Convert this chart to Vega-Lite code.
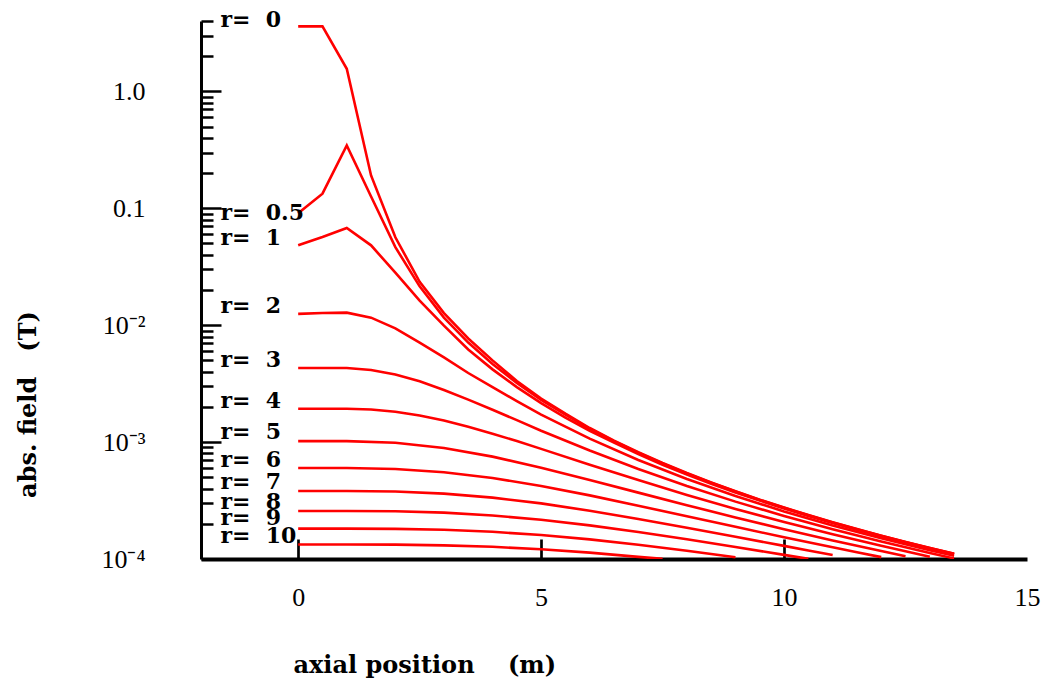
{
  "$schema": "https://vega.github.io/schema/vega-lite/v6.json",
  "width": 826,
  "height": 538,
  "autosize": "none",
  "padding": {"left": 201, "top": 21, "right": 16, "bottom": 127},
  "background": "white",
  "config": {"view": {"stroke": null}},
  "datasets": {
    "curves": [
      {"r":"0","x":0,"B":3.6},{"r":"0","x":0.5,"B":3.6},{"r":"0","x":1,"B":1.56},{"r":"0","x":1.5,"B":0.191},{"r":"0","x":2,"B":0.0565},{"r":"0","x":2.5,"B":0.0235},{"r":"0","x":3,"B":0.0127},{"r":"0","x":3.5,"B":0.0077},{"r":"0","x":4,"B":0.005},{"r":"0","x":4.5,"B":0.00333},{"r":"0","x":5,"B":0.00236},{"r":"0","x":5.5,"B":0.00175},{"r":"0","x":6,"B":0.00132},{"r":"0","x":6.5,"B":0.00103},{"r":"0","x":7,"B":0.00082},{"r":"0","x":7.5,"B":0.000663},{"r":"0","x":8,"B":0.000544},{"r":"0","x":8.5,"B":0.000452},{"r":"0","x":9,"B":0.00038},{"r":"0","x":9.5,"B":0.000322},{"r":"0","x":10,"B":0.0002755},{"r":"0","x":10.5,"B":0.0002375},{"r":"0","x":11,"B":0.0002063},{"r":"0","x":11.5,"B":0.0001802},{"r":"0","x":12,"B":0.0001584},{"r":"0","x":12.5,"B":0.00014},{"r":"0","x":13,"B":0.0001244},{"r":"0","x":13.5,"B":0.0001109},
      {"r":"0.5","x":0,"B":0.0906},{"r":"0.5","x":0.5,"B":0.1334},{"r":"0.5","x":1,"B":0.345},{"r":"0.5","x":1.5,"B":0.126},{"r":"0.5","x":2,"B":0.0465},{"r":"0.5","x":2.5,"B":0.0215},{"r":"0.5","x":3,"B":0.0116},{"r":"0.5","x":3.5,"B":0.0071},{"r":"0.5","x":4,"B":0.00465},{"r":"0.5","x":4.5,"B":0.0032},{"r":"0.5","x":5,"B":0.0023},{"r":"0.5","x":5.5,"B":0.00172},{"r":"0.5","x":6,"B":0.0013},{"r":"0.5","x":6.5,"B":0.00102},{"r":"0.5","x":7,"B":0.000812},{"r":"0.5","x":7.5,"B":0.000658},{"r":"0.5","x":8,"B":0.00054},{"r":"0.5","x":8.5,"B":0.000449},{"r":"0.5","x":9,"B":0.000378},{"r":"0.5","x":9.5,"B":0.00032},{"r":"0.5","x":10,"B":0.0002742},{"r":"0.5","x":10.5,"B":0.0002365},{"r":"0.5","x":11,"B":0.0002055},{"r":"0.5","x":11.5,"B":0.0001795},{"r":"0.5","x":12,"B":0.0001578},{"r":"0.5","x":12.5,"B":0.0001395},{"r":"0.5","x":13,"B":0.0001241},{"r":"0.5","x":13.5,"B":0.0001106},
      {"r":"1","x":0,"B":0.0482},{"r":"1","x":0.5,"B":0.0568},{"r":"1","x":1,"B":0.0678},{"r":"1","x":1.5,"B":0.0482},{"r":"1","x":2,"B":0.0281},{"r":"1","x":2.5,"B":0.0162},{"r":"1","x":3,"B":0.0099},{"r":"1","x":3.5,"B":0.0062},{"r":"1","x":4,"B":0.00419},{"r":"1","x":4.5,"B":0.00295},{"r":"1","x":5,"B":0.002157},{"r":"1","x":5.5,"B":0.00162},{"r":"1","x":6,"B":0.001251},{"r":"1","x":6.5,"B":0.00099},{"r":"1","x":7,"B":0.000789},{"r":"1","x":7.5,"B":0.00064},{"r":"1","x":8,"B":0.000528},{"r":"1","x":8.5,"B":0.000441},{"r":"1","x":9,"B":0.000371},{"r":"1","x":9.5,"B":0.000316},{"r":"1","x":10,"B":0.00027},{"r":"1","x":10.5,"B":0.000233},{"r":"1","x":11,"B":0.000203},{"r":"1","x":11.5,"B":0.0001775},{"r":"1","x":12,"B":0.0001563},{"r":"1","x":12.5,"B":0.0001383},{"r":"1","x":13,"B":0.000123},{"r":"1","x":13.5,"B":0.0001098},
      {"r":"2","x":0,"B":0.0125},{"r":"2","x":0.5,"B":0.0127},{"r":"2","x":1,"B":0.0128},{"r":"2","x":1.5,"B":0.0116},{"r":"2","x":2,"B":0.0094},{"r":"2","x":2.5,"B":0.0071},{"r":"2","x":3,"B":0.0053},{"r":"2","x":3.5,"B":0.0039},{"r":"2","x":4,"B":0.00295},{"r":"2","x":4.5,"B":0.00224},{"r":"2","x":5,"B":0.00172},{"r":"2","x":6,"B":0.00107},{"r":"2","x":7,"B":0.000702},{"r":"2","x":8,"B":0.000483},{"r":"2","x":9,"B":0.0003458},{"r":"2","x":10,"B":0.0002554},{"r":"2","x":11,"B":0.0001938},{"r":"2","x":12,"B":0.0001504},{"r":"2","x":13,"B":0.0001189},{"r":"2","x":13.5,"B":0.0001065},
      {"r":"3","x":0,"B":0.0043},{"r":"3","x":0.5,"B":0.0043},{"r":"3","x":1,"B":0.0043},{"r":"3","x":1.5,"B":0.00414},{"r":"3","x":2,"B":0.00379},{"r":"3","x":2.5,"B":0.00331},{"r":"3","x":3,"B":0.00279},{"r":"3","x":3.5,"B":0.00231},{"r":"3","x":4,"B":0.00189},{"r":"3","x":4.5,"B":0.00154},{"r":"3","x":5,"B":0.00125},{"r":"3","x":6,"B":0.000847},{"r":"3","x":7,"B":0.0005886},{"r":"3","x":8,"B":0.000421},{"r":"3","x":9,"B":0.0003096},{"r":"3","x":10,"B":0.0002334},{"r":"3","x":11,"B":0.0001797},{"r":"3","x":12,"B":0.0001411},{"r":"3","x":13,"B":0.0001127},{"r":"3","x":13.5,"B":0.0001012},
      {"r":"4","x":0,"B":0.00193},{"r":"4","x":0.5,"B":0.00193},{"r":"4","x":1,"B":0.00193},{"r":"4","x":1.5,"B":0.0019},{"r":"4","x":2,"B":0.00182},{"r":"4","x":2.5,"B":0.00169},{"r":"4","x":3,"B":0.00153},{"r":"4","x":3.5,"B":0.00135},{"r":"4","x":4,"B":0.00118},{"r":"4","x":4.5,"B":0.00102},{"r":"4","x":5,"B":0.000875},{"r":"4","x":6,"B":0.000641},{"r":"4","x":7,"B":0.000473},{"r":"4","x":8,"B":0.000353},{"r":"4","x":9,"B":0.000268},{"r":"4","x":10,"B":0.000207},{"r":"4","x":11,"B":0.0001627},{"r":"4","x":12,"B":0.0001296},{"r":"4","x":12.5,"B":0.0001163},{"r":"4","x":13,"B":0.0001047},
      {"r":"5","x":0,"B":0.00102},{"r":"5","x":1,"B":0.00102},{"r":"5","x":2,"B":0.000987},{"r":"5","x":3,"B":0.000891},{"r":"5","x":4,"B":0.000751},{"r":"5","x":5,"B":0.000604},{"r":"5","x":6,"B":0.0004745},{"r":"5","x":7,"B":0.0003696},{"r":"5","x":8,"B":0.0002886},{"r":"5","x":9,"B":0.0002267},{"r":"5","x":10,"B":0.0001798},{"r":"5","x":11,"B":0.0001442},{"r":"5","x":12,"B":0.0001169},{"r":"5","x":12.5,"B":0.0001056},
      {"r":"6","x":0,"B":0.0006},{"r":"6","x":1,"B":0.0006},{"r":"6","x":2,"B":0.000589},{"r":"6","x":3,"B":0.000553},{"r":"6","x":4,"B":0.000493},{"r":"6","x":5,"B":0.000421},{"r":"6","x":6,"B":0.00035},{"r":"6","x":7,"B":0.0002856},{"r":"6","x":8,"B":0.000232},{"r":"6","x":9,"B":0.0001884},{"r":"6","x":10,"B":0.0001534},{"r":"6","x":11,"B":0.0001258},{"r":"6","x":11.5,"B":0.0001142},{"r":"6","x":12,"B":0.0001038},
      {"r":"7","x":0,"B":0.000382},{"r":"7","x":1,"B":0.000382},{"r":"7","x":2,"B":0.0003775},{"r":"7","x":3,"B":0.0003625},{"r":"7","x":4,"B":0.000335},{"r":"7","x":5,"B":0.000299},{"r":"7","x":6,"B":0.0002586},{"r":"7","x":7,"B":0.00022},{"r":"7","x":8,"B":0.0001851},{"r":"7","x":9,"B":0.0001549},{"r":"7","x":10,"B":0.0001295},{"r":"7","x":10.5,"B":0.0001183},{"r":"7","x":11,"B":0.0001084},
      {"r":"8","x":0,"B":0.0002576},{"r":"8","x":1,"B":0.0002576},{"r":"8","x":2,"B":0.0002559},{"r":"8","x":3,"B":0.0002491},{"r":"8","x":4,"B":0.0002357},{"r":"8","x":5,"B":0.0002165},{"r":"8","x":6,"B":0.0001938},{"r":"8","x":7,"B":0.0001702},{"r":"8","x":8,"B":0.0001474},{"r":"8","x":9,"B":0.0001267},{"r":"8","x":10,"B":0.0001085},{"r":"8","x":10.5,"B":0.0001002},
      {"r":"9","x":0,"B":0.0001818},{"r":"9","x":1,"B":0.0001818},{"r":"9","x":2,"B":0.000181},{"r":"9","x":3,"B":0.0001777},{"r":"9","x":4,"B":0.0001708},{"r":"9","x":5,"B":0.0001603},{"r":"9","x":6,"B":0.0001471},{"r":"9","x":7,"B":0.0001325},{"r":"9","x":8,"B":0.0001177},{"r":"9","x":8.5,"B":0.0001105},{"r":"9","x":9,"B":0.0001036},
      {"r":"10","x":0,"B":0.000133},{"r":"10","x":1,"B":0.000133},{"r":"10","x":2,"B":0.0001326},{"r":"10","x":3,"B":0.0001309},{"r":"10","x":4,"B":0.0001271},{"r":"10","x":5,"B":0.0001212},{"r":"10","x":6,"B":0.0001134},{"r":"10","x":7,"B":0.0001042},{"r":"10","x":7.5,"B":0.0001002}
    ],
    "labels": [
      {"label":"r=\u00a0\u00a00","B":3.53},
      {"label":"r=\u00a0\u00a00.5","B":0.0789},
      {"label":"r=\u00a0\u00a01","B":0.0482},
      {"label":"r=\u00a0\u00a02","B":0.01265},
      {"label":"r=\u00a0\u00a03","B":0.00437},
      {"label":"r=\u00a0\u00a04","B":0.00195},
      {"label":"r=\u00a0\u00a05","B":0.00106},
      {"label":"r=\u00a0\u00a06","B":0.00061},
      {"label":"r=\u00a0\u00a07","B":0.000395},
      {"label":"r=\u00a0\u00a08","B":0.000267},
      {"label":"r=\u00a0\u00a09","B":0.000195},
      {"label":"r=\u00a0\u00a010","B":0.000136}
    ]
  },
  "layer": [
    {
      "data": {"name": "curves"},
      "mark": {"type": "line", "color": "#ff0000", "strokeWidth": 2.6, "clip": true},
      "encoding": {
        "x": {
          "field": "x", "type": "quantitative",
          "scale": {"domain": [-2, 15], "nice": false, "zero": false},
          "axis": {
            "values": [0, 5, 10, 15],
            "tickSize": -20,
            "tickOpacity": {"condition": {"test": "datum.value == 15", "value": 0}, "value": 1},
            "tickWidth": 2.7, "tickColor": "black",
            "domainColor": "black", "domainWidth": 4,
            "grid": false,
            "labelFont": "Liberation Serif", "labelFontSize": 26, "labelColor": "black",
            "labelPadding": 45, "labelFlush": false, "labelOverlap": false,
            "title": "axial position\u00a0\u00a0\u00a0\u00a0(m)",
            "titleFont": "DejaVu Serif", "titleFontWeight": "bold", "titleFontSize": 24, "titleColor": "black",
            "titleX": 92, "titleY": 106, "titleAlign": "left", "titleBaseline": "middle"
          }
        },
        "y": {
          "field": "B", "type": "quantitative",
          "scale": {"type": "log", "domain": [0.0001, 4], "nice": false},
          "axis": {
            "values": [0.0001,0.0002,0.0003,0.0004,0.0005,0.0006,0.0007,0.0008,0.0009,0.001,0.002,0.003,0.004,0.005,0.006,0.007,0.008,0.009,0.01,0.02,0.03,0.04,0.05,0.06,0.07,0.08,0.09,0.1,0.2,0.3,0.4,0.5,0.6,0.7,0.8,0.9,1,2,3,4],
            "labelExpr": "abs(log(datum.value)/LN10+4)<0.001 ? '10⁻⁴' : abs(log(datum.value)/LN10+3)<0.001 ? '10⁻³' : abs(log(datum.value)/LN10+2)<0.001 ? '10⁻²' : abs(log(datum.value)/LN10+1)<0.001 ? '0.1' : abs(log(datum.value)/LN10)<0.001 ? '1.0' : ''",
            "tickSize": {"condition": {"test": "abs(log(datum.value)/LN10 - round(log(datum.value)/LN10)) < 0.001", "value": -20}, "value": -12},
            "tickWidth": 2.5, "tickColor": "black",
            "domainColor": "black", "domainWidth": 3,
            "grid": false,
            "labelFont": "Liberation Serif", "labelFontSize": 26, "labelColor": "black",
            "labelPadding": 76, "labelBaseline": "middle", "labelOverlap": false, "labelBound": false, "labelFlush": false,
            "title": "abs. field\u00a0\u00a0\u00a0(T)",
            "titleFont": "DejaVu Serif", "titleFontWeight": "bold", "titleFontSize": 24, "titleColor": "black",
            "titleAngle": 270, "titleX": -173, "titleY": 383, "titleAlign": "center", "titleBaseline": "middle"
          }
        },
        "detail": {"field": "r", "type": "nominal"}
      }
    },
    {
      "data": {"name": "labels"},
      "mark": {"type": "text", "align": "left", "baseline": "alphabetic", "font": "DejaVu Serif", "fontWeight": "bold", "fontSize": 22, "color": "black"},
      "encoding": {
        "x": {"datum": -1.6, "type": "quantitative", "scale": {"domain": [-2, 15], "nice": false, "zero": false}},
        "y": {"field": "B", "type": "quantitative", "scale": {"type": "log", "domain": [0.0001, 4], "nice": false}},
        "text": {"field": "label", "type": "nominal"}
      }
    }
  ]
}
